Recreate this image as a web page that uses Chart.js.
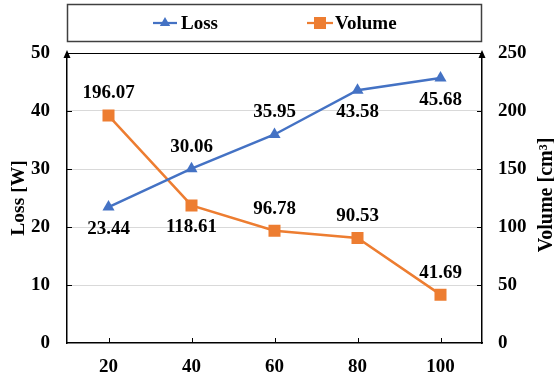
<!DOCTYPE html>
<html>
<head>
<meta charset="utf-8">
<script src="https://cdn.jsdelivr.net/npm/chart.js@4/dist/chart.umd.min.js"></script>
<style>
  html, body { margin: 0; padding: 0; background: #fff; }
  #wrap { width: 554px; height: 381px; }
</style>
</head>
<body>
<div id="wrap"><canvas id="js--chart--1"></canvas></div>
<script>
const labels = ['20', '40', '60', '80', '100'];
const loss = [23.44, 30.06, 35.95, 43.58, 45.68];
const volume = [196.07, 118.61, 96.78, 90.53, 41.69];
const lossTicks = [0, 10, 20, 30, 40, 50];
const volumeTicks = [0, 50, 100, 150, 200, 250];
// where each value label sits: 1 = above the point, -1 = below
const lossLabelSide = [-1, 1, 1, -1, -1];
const volumeLabelSide = [1, -1, 1, 1, 1];

const serif = "'Liberation Serif', 'Times New Roman', serif";
const blue = '#4472C4';
const orange = '#ED7D31';

function font(size) {
    return 'bold ' + size + 'px ' + serif;
}

// value labels, inward tick marks, axis arrows, frame, legend, right title
const extras = {
    id: 'extras',
    afterDatasetsDraw(chart) {
        const ctx = chart.ctx;
        const sides = [lossLabelSide, volumeLabelSide];
        ctx.save();
        ctx.font = font(19);
        ctx.fillStyle = '#000';
        ctx.textAlign = 'center';
        ctx.textBaseline = 'middle';
        chart.data.datasets.forEach((ds, i) => {
            chart.getDatasetMeta(i).data.forEach((pt, j) => {
                ctx.fillText(ds.data[j].toFixed(2), pt.x, pt.y - sides[i][j] * 22);
            });
        });
        ctx.restore();
    },
    afterDraw(chart) {
        const ctx = chart.ctx;
        const a = chart.chartArea;
        const x = chart.scales.x, yl = chart.scales.y, yr = chart.scales.y1;
        ctx.save();
        ctx.strokeStyle = '#000';
        ctx.fillStyle = '#000';

        // top frame line
        ctx.lineWidth = 1;
        ctx.beginPath();
        ctx.moveTo(a.left, a.top + 0.5);
        ctx.lineTo(a.right, a.top + 0.5);
        ctx.stroke();

        // inward ticks
        ctx.lineWidth = 1;
        ctx.beginPath();
        yl.ticks.forEach((t, i) => {
            if (i === 0 || i === yl.ticks.length - 1) return;
            const py = Math.round(yl.getPixelForTick(i)) + 0.5;
            ctx.moveTo(a.left, py); ctx.lineTo(a.left + 5, py);
        });
        yr.ticks.forEach((t, i) => {
            if (i === 0 || i === yr.ticks.length - 1) return;
            const py = Math.round(yr.getPixelForTick(i)) + 0.5;
            ctx.moveTo(a.right, py); ctx.lineTo(a.right - 5, py);
        });
        x.ticks.forEach((t, i) => {
            const px = Math.round(x.getPixelForTick(i)) + 0.5;
            ctx.moveTo(px, a.bottom); ctx.lineTo(px, a.bottom - 5);
        });
        ctx.stroke();

        // arrow heads on top of the y axes
        [a.left, a.right].forEach(px => {
            ctx.beginPath();
            ctx.moveTo(px, a.top - 3);
            ctx.lineTo(px - 3.5, a.top + 5);
            ctx.lineTo(px + 3.5, a.top + 5);
            ctx.closePath();
            ctx.fill();
        });

        // legend box
        ctx.strokeStyle = '#404040';
        ctx.lineWidth = 1.5;
        ctx.strokeRect(a.left + 0.5, 4.5, a.right - a.left - 1, 37);

        const ly = 23;
        const items = [
            { x0: 153, x1: 177, tx: 181, color: blue, style: 'triangle', r: 6 },
            { x0: 307, x1: 333, tx: 335, color: orange, style: 'rect', r: 8.5 }
        ];
        items.forEach((it, i) => {
            ctx.strokeStyle = it.color;
            ctx.fillStyle = it.color;
            ctx.lineWidth = 2.25;
            ctx.beginPath();
            ctx.moveTo(it.x0, ly); ctx.lineTo(it.x1, ly);
            ctx.stroke();
            Chart.helpers.drawPoint(ctx, { pointStyle: it.style, radius: it.r, rotation: 0, borderWidth: 0 },
                (it.x0 + it.x1) / 2, ly);
            ctx.fillStyle = '#000';
            ctx.font = font(19);
            ctx.textAlign = 'left';
            ctx.textBaseline = 'middle';
            ctx.fillText(chart.data.datasets[i].label, it.tx, ly + 1);
        });

        // right axis title, reading bottom to top
        ctx.translate(552, 195);
        ctx.rotate(-Math.PI / 2);
        ctx.font = font(20);
        ctx.fillStyle = '#000';
        ctx.textAlign = 'center';
        ctx.textBaseline = 'alphabetic';
        ctx.fillText('Volume [cm³]', 0, 0);
        ctx.restore();
    }
};

const data = {
    labels: labels,
    datasets: [
        {
            label: 'Loss',
            data: loss,
            yAxisID: 'y',
            borderColor: blue,
            backgroundColor: blue,
            borderWidth: 2.5,
            pointStyle: 'triangle',
            pointRadius: 7,
            pointHoverRadius: 7,
            pointBorderWidth: 0
        },
        {
            label: 'Volume',
            data: volume,
            yAxisID: 'y1',
            borderColor: orange,
            backgroundColor: orange,
            borderWidth: 2.5,
            pointStyle: 'rect',
            pointRadius: 8.5,
            pointHoverRadius: 8.5,
            pointBorderWidth: 0
        }
    ]
};

const tickFont = { family: serif, size: 19, weight: 'bold' };

const config = {
    type: 'line',
    data: data,
    options: {
        responsive: false,
        animation: false,
        devicePixelRatio: 1,
        layout: { padding: { top: 53, left: 0, right: 0, bottom: 0 } },
        plugins: {
            legend: { display: false },
            tooltip: { enabled: false }
        },
        scales: {
            x: {
                offset: true,
                grid: { display: false, drawTicks: false },
                border: { color: '#000', width: 1.5 },
                ticks: { color: '#000', font: tickFont, padding: 13, maxRotation: 0 },
                afterFit(s) { s.height = 38; }
            },
            y: {
                position: 'left',
                min: 0,
                max: 50,
                afterBuildTicks(s) { s.ticks = lossTicks.map(v => ({ value: v })); },
                grid: {
                    drawTicks: false,
                    color: c => (c.tick.value === 0 || c.tick.value === 50) ? 'rgba(0,0,0,0)' : '#d9d9d9',
                    lineWidth: 1
                },
                border: { color: '#000', width: 1.5 },
                ticks: { color: '#000', font: tickFont, padding: 17 },
                title: {
                    display: true,
                    text: 'Loss [W]',
                    color: '#000',
                    font: { family: serif, size: 19.5, weight: 'bold' },
                    padding: { top: 7, bottom: 0 }
                },
                afterFit(s) { s.width = 67; }
            },
            y1: {
                position: 'right',
                min: 0,
                max: 250,
                afterBuildTicks(s) { s.ticks = volumeTicks.map(v => ({ value: v })); },
                grid: { display: false, drawTicks: false },
                border: { color: '#000', width: 1.5 },
                ticks: { color: '#000', font: tickFont, padding: 16 },
                afterFit(s) { s.width = 72; }
            }
        }
    },
    plugins: [extras]
};

const canvas = document.getElementById('js--chart--1');
canvas.width = 554;
canvas.height = 381;
new Chart(canvas, config);
</script>
</body>
</html>
